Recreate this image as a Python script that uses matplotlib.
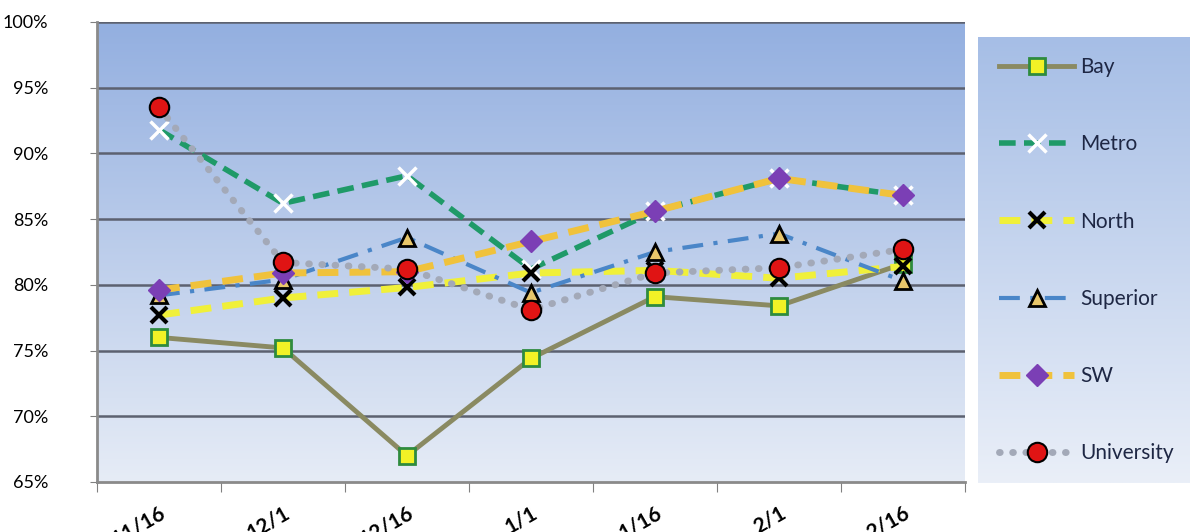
import numpy as np
import matplotlib
matplotlib.use("Agg")
import matplotlib.pyplot as plt
from matplotlib.colors import LinearSegmentedColormap

plt.rcParams['font.family'] = ['Lato', 'DejaVu Sans']

dates = ["11/16", "12/1", "12/16", "1/1", "1/16", "2/1", "2/16"]
bay = [76.0, 75.2, 67.0, 74.4, 79.1, 78.4, 81.6]
metro = [91.8, 86.2, 88.3, 81.2, 85.6, 88.1, 86.8]
north = [77.7, 79.0, 79.8, 80.9, 81.1, 80.5, 81.4]
superior = [79.2, 80.4, 83.6, 79.4, 82.5, 83.9, 80.3]
sw = [79.6, 80.9, 81.0, 83.3, 85.6, 88.1, 86.8]
university = [93.5, 81.7, 81.2, 78.1, 80.9, 81.3, 82.7]

fig = plt.figure(figsize=(11.9, 5.32), dpi=100)
ax = fig.add_axes([0.0815, 0.094, 0.7294, 0.8647])

# gradient background for the plot area
grad = LinearSegmentedColormap.from_list("bg", ["#e6ecf6", "#93afe0"])
ax.imshow(np.linspace(0, 1, 256).reshape(-1, 1), cmap=grad, aspect="auto",
          extent=[0, 1, 0, 1], transform=ax.transAxes, origin="lower", zorder=0)

x = np.arange(len(dates))

ax.plot(x, bay, color="#8a8a62", lw=3.5, marker="s", ms=12,
        mfc="#f2f226", mec="#2e8b3e", mew=2, label="Bay", zorder=3)
ax.plot(x, metro, color="#1f9a68", lw=4, ls=(0, (3, 1.5)), marker="x", ms=13,
        mec="white", mew=2.5, label="Metro", zorder=3)
ax.plot(x, north, color="#f0f03a", lw=5, ls=(0, (3, 1.6)), marker="x", ms=11,
        mec="black", mew=3, label="North", zorder=3)
ax.plot(x, superior, color="#4a86c8", lw=3, ls=(0, (5, 2.5, 1, 2.5)), marker="^", ms=12,
        mfc="#e8c66a", mec="black", mew=2, label="Superior", zorder=3)
ax.plot(x, sw, color="#f0c23c", lw=5, ls=(0, (3, 1.6)), marker="D", ms=11,
        mfc="#7b3fb5", mec="#7b3fb5", label="SW", zorder=3)
ax.plot(x, university, color="#a3a9b8", lw=5, ls=(0, (0.1, 1.8)), dash_capstyle="round",
        marker="o", ms=14, mfc="#e01414", mec="black", mew=1.5, label="University", zorder=3)

ax.set_xlim(-0.5, 6.5)
ax.set_ylim(65, 100)
ax.set_yticks(np.arange(65, 101, 5))
ax.set_yticklabels([f"{v}%" for v in range(65, 101, 5)], fontsize=13)
for v in range(70, 101, 5):
    ax.axhline(v, color="#5c6170", lw=1.8, zorder=1)

ax.set_xticks(np.arange(-0.5, 7, 1))
ax.set_xticklabels([])
ax.set_xticks(x, minor=True)
ax.set_xticklabels(dates, minor=True, rotation=30, ha="right", va="top",
                   rotation_mode="anchor", fontsize=15, fontweight="bold")
ax.tick_params(axis="x", which="minor", length=0, pad=15)
ax.tick_params(axis="x", which="major", length=7, color="#808080", direction="out")
ax.tick_params(axis="y", length=5, color="#808080", direction="out", pad=30)

for side in ["top", "right"]:
    ax.spines[side].set_visible(False)
for side in ["left", "bottom"]:
    ax.spines[side].set_color("#8a8a8a")
    ax.spines[side].set_linewidth(2)

# legend panel with its own gradient
lax = fig.add_axes([0.822, 0.092, 0.178, 0.838])
lgrad = LinearSegmentedColormap.from_list("lg", ["#eaeff8", "#a6bee6"])
lax.imshow(np.linspace(0, 1, 256).reshape(-1, 1), cmap=lgrad, aspect="auto",
           extent=[0, 1, 0, 1], origin="lower")
lax.set_xlim(0, 1)
lax.set_ylim(0, 1)
lax.axis("off")

handles, labels = ax.get_legend_handles_labels()
leg = lax.legend(handles, labels, loc="center left", bbox_to_anchor=(0.0, 0.5),
                 frameon=False, fontsize=15, handlelength=3.6, labelspacing=2.75,
                 handletextpad=0.3, numpoints=1, borderaxespad=0.6)
for t in leg.get_texts():
    t.set_color("#1e2744")

fig.savefig("out.png", dpi=100)
